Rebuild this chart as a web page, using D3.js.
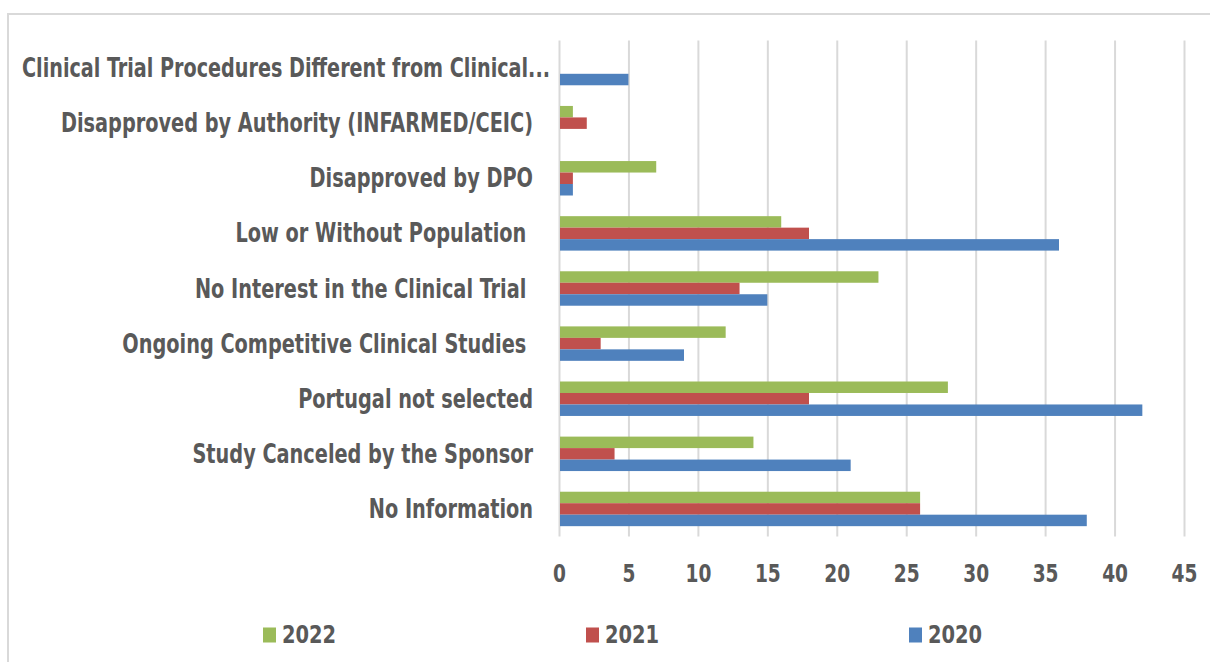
<!DOCTYPE html>
<html>
<head>
<meta charset="utf-8">
<script src="https://cdn.jsdelivr.net/npm/d3@7"></script>
<style>
  body { margin: 0; background: #fff; }
  svg text { font-family: "Liberation Sans Narrow", "DejaVu Sans Condensed", "Liberation Sans", sans-serif; font-weight: bold; fill: #595959; }
</style>
</head>
<body>
<svg id="chart" width="1210" height="662"></svg>
<script>
// categories, top to bottom
var categories = [
  "Clinical Trial Procedures Different from Clinical...",
  "Disapproved by Authority (INFARMED/CEIC)",
  "Disapproved by DPO",
  "Low or Without Population ",
  "No Interest in the Clinical Trial ",
  "Ongoing Competitive Clinical Studies ",
  "Portugal not selected",
  "Study Canceled by the Sponsor",
  "No Information"
];
var years = ["2022", "2021", "2020"];
var v2022 = [0, 1, 7, 16, 23, 12, 28, 14, 26];
var v2021 = [0, 2, 1, 18, 13, 3, 18, 4, 26];
var v2020 = [5, 0, 1, 36, 15, 9, 42, 21, 38];
var colors = ["#9BBB59", "#C0504D", "#4F81BD"];
var xTicks = [0, 5, 10, 15, 20, 25, 30, 35, 40, 45];

var series = [v2022, v2021, v2020];

// narrow the glyphs a bit (the original uses a condensed face)
function squeeze(sel, k, maxW) {
  sel.each(function() {
    var w = this.getComputedTextLength() * k;
    if (maxW && w > maxW) w = maxW;
    d3.select(this).attr("textLength", w).attr("lengthAdjust", "spacingAndGlyphs");
  });
}

function draw() {
  var svg = d3.select("#chart");

  // chart border (only top/left visible in frame)
  svg.append("rect")
    .attr("x", 8).attr("y", 14)
    .attr("width", 1220).attr("height", 700)
    .attr("fill", "none")
    .attr("stroke", "#d9d9d9")
    .attr("stroke-width", 2);

  var plotL = 559, plotR = 1184, plotT = 40.5, plotB = 536.5;

  var x = d3.scaleLinear().domain([0, 45]).range([plotL, plotR]);
  var y = d3.scaleBand().domain(categories).range([plotT, plotB]);
  var ySub = d3.scaleBand().domain(years).range([0, y.bandwidth()]).paddingOuter(0.9);

  // gridlines
  var grid = svg.append("g")
    .attr("transform", "translate(0," + plotB + ")")
    .call(d3.axisBottom(x).tickValues(xTicks).tickSize(-(plotB - plotT)).tickFormat(""));
  grid.select(".domain").remove();
  grid.selectAll("line").attr("stroke", "#d9d9d9").attr("stroke-width", 2);

  // bars
  var rows = [];
  categories.forEach(function(c, i) {
    years.forEach(function(yr, j) {
      rows.push({cat: c, year: yr, value: series[j][i], color: colors[j]});
    });
  });

  svg.append("g").selectAll("rect")
    .data(rows)
    .enter()
    .append("rect")
    .attr("x", x(0) + 1)
    .attr("y", function(d) { return y(d.cat) + ySub(d.year); })
    .attr("width", function(d) { return Math.max(0, x(d.value) - x(0) - 1); })
    .attr("height", ySub.bandwidth())
    .attr("fill", function(d) { return d.color; });

  // x tick labels
  var xa = svg.append("g")
    .attr("transform", "translate(0," + plotB + ")")
    .call(d3.axisBottom(x).tickValues(xTicks).tickSize(0).tickPadding(28));
  xa.select(".domain").remove();
  xa.selectAll("text").attr("font-size", 24).attr("font-family", null)
    .call(squeeze, 0.86);

  // category labels
  var labelRight = 533, labelLeft = 22, longRight = 550;
  svg.append("g").selectAll("text")
    .data(categories)
    .enter()
    .append("text")
    .attr("xml:space", "preserve")
    .attr("font-size", 26)
    .attr("dy", "0.35em")
    .attr("y", function(d) { return y(d) + y.bandwidth() / 2; })
    .text(function(d) { return d; })
    .call(squeeze, 0.825, longRight - labelLeft)
    .each(function() {
      var t = d3.select(this);
      var w = +t.attr("textLength");
      if (w > labelRight - labelLeft) {
        t.attr("x", labelLeft).attr("text-anchor", "start");
      } else {
        t.attr("x", labelRight).attr("text-anchor", "end");
      }
    });

  // legend
  var legX = d3.scaleLinear().domain([0, 1]).range([263, 586]);
  var leg = svg.append("g").selectAll("g")
    .data(years)
    .enter()
    .append("g")
    .attr("transform", function(d, i) { return "translate(" + legX(i) + ",635)"; });
  leg.append("rect")
    .attr("x", 0).attr("y", -7.5)
    .attr("width", 13).attr("height", 15)
    .attr("fill", function(d, i) { return colors[i]; });
  leg.append("text")
    .attr("x", 19)
    .attr("dy", "0.35em")
    .attr("font-size", 24)
    .text(function(d) { return d; })
    .call(squeeze, 0.9);
}
draw();
</script>
</body>
</html>
